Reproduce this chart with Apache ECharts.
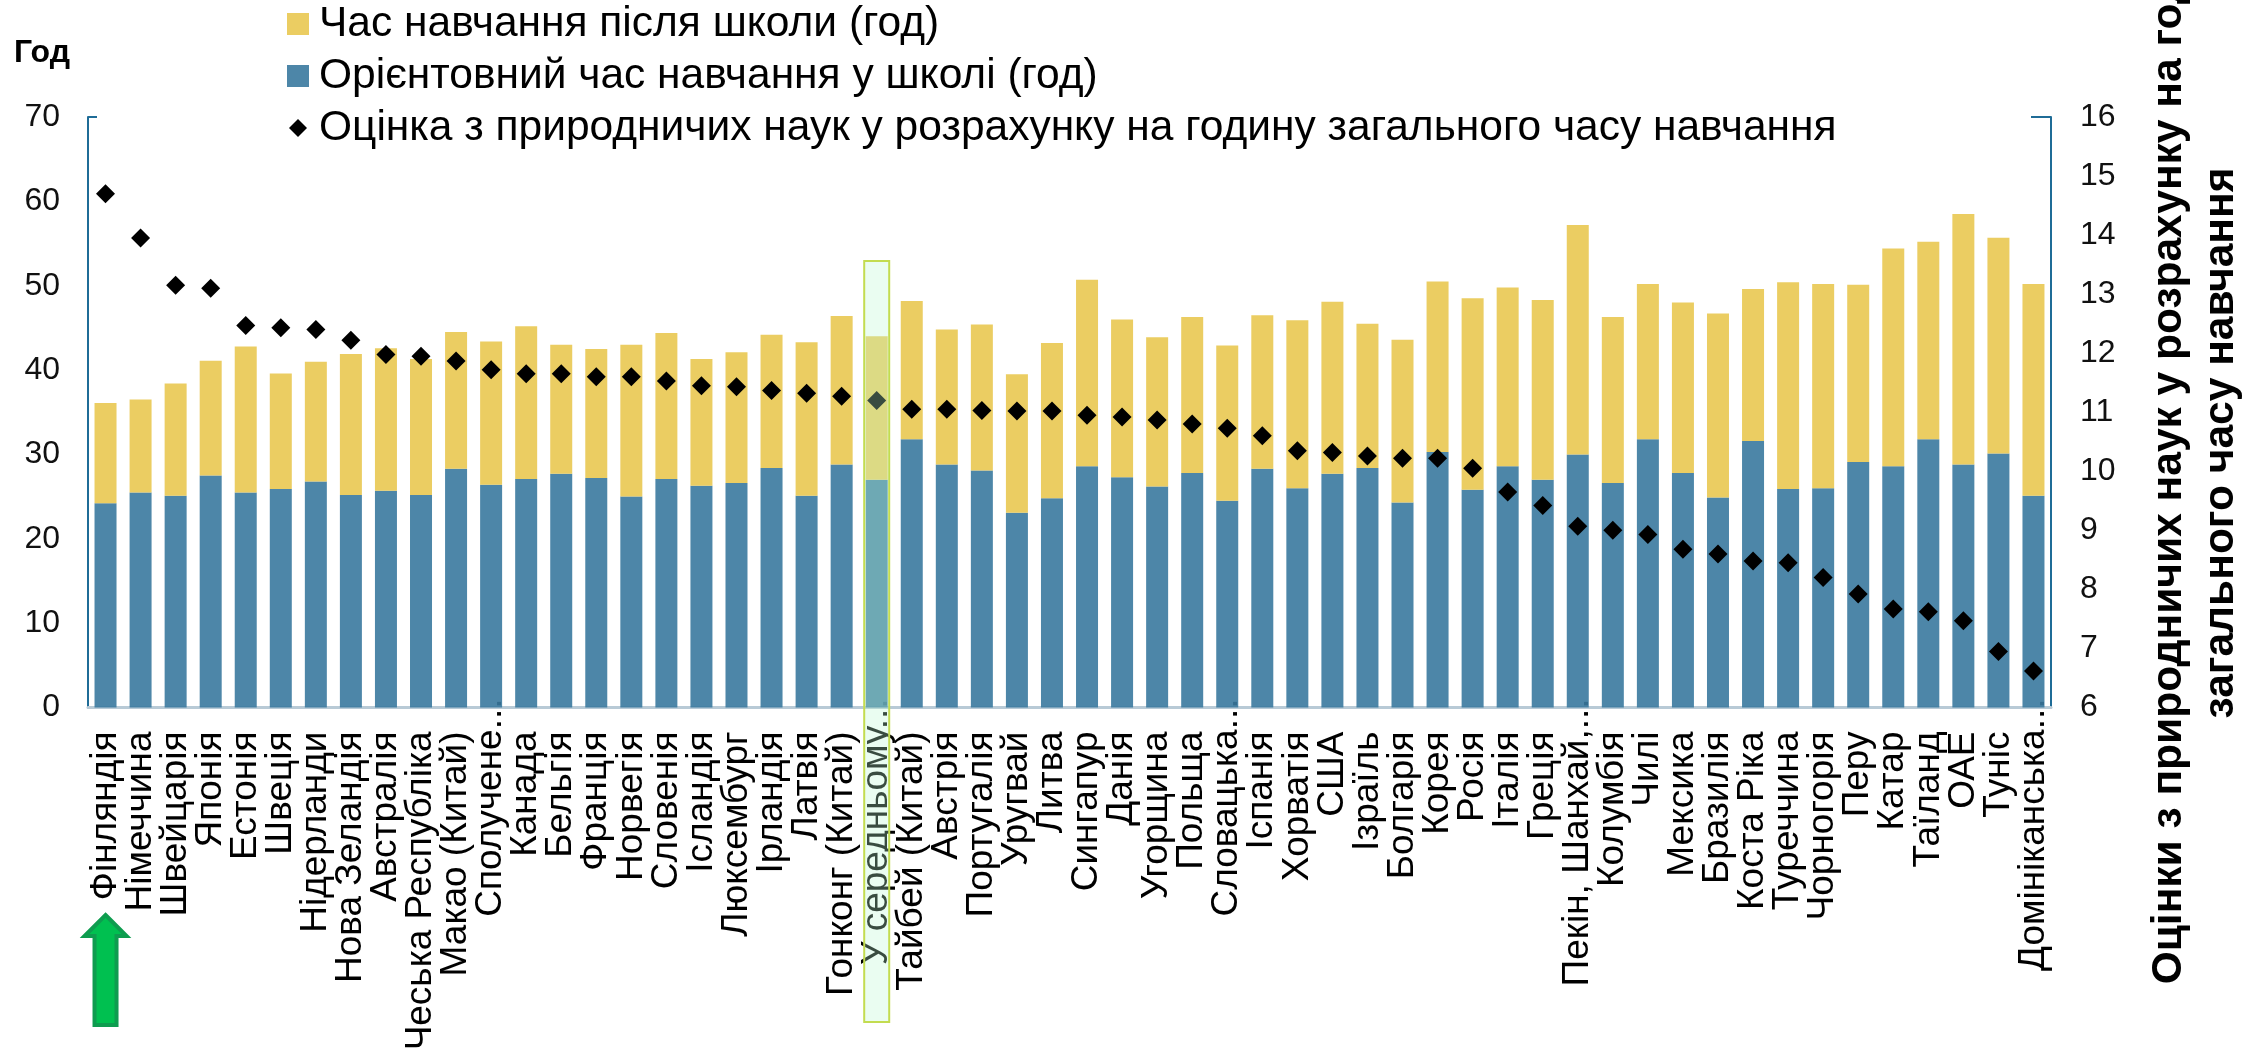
<!DOCTYPE html>
<html>
<head>
<meta charset="utf-8">
<style>html,body{margin:0;padding:0;background:#fff}#c{width:2249px;height:1058px}</style>
<script src="https://cdn.jsdelivr.net/npm/echarts@6/dist/echarts.min.js"></script>
</head>
<body>
<div id="c"></div>
<script>
const categories = ['Фінляндія','Німеччина','Швейцарія','Японія','Естонія','Швеція','Нідерланди','Нова Зеландія','Австралія','Чеська Республіка','Макао (Китай)','Сполучене...','Канада','Бельгія','Франція','Норвегія','Словенія','Ісландія','Люксембург','Ірландія','Латвія','Гонконг (Китай)','У середньому...','Тайбей (Китай)','Австрія','Португалія','Уругвай','Литва','Сингапур','Данія','Угорщина','Польща','Словацька...','Іспанія','Хорватія','США','Ізраїль','Болгарія','Корея','Росія','Італія','Греція','Пекін, Шанхай,...','Колумбія','Чилі','Мексика','Бразилія','Коста Ріка','Туреччина','Чорногорія','Перу','Катар','Таїланд','ОАЕ','Туніс','Домініканська...'];
const schoolHours = [24.2,25.5,25.1,27.5,25.5,25.9,26.8,25.2,25.7,25.2,28.3,26.4,27.1,27.7,27.2,25,27.1,26.3,26.6,28.4,25.1,28.8,27,31.8,28.8,28.1,23.1,24.8,28.6,27.3,26.2,27.8,24.5,28.3,26,27.7,28.4,24.3,30.3,25.8,28.6,27,30,26.6,31.8,27.8,24.9,31.6,25.9,26,29.1,28.6,31.8,28.8,30.1,25.1];
const afterSchoolHours = [11.9,11,13.3,13.6,17.3,13.7,14.2,16.7,16.9,16.1,16.2,17,18.1,15.3,15.3,18,17.3,15,15.5,15.8,18.2,17.6,17,16.4,16,17.3,16.4,18.4,22.1,18.7,17.7,18.5,18.4,18.2,19.9,20.4,17.1,19.3,20.2,22.7,21.2,21.3,27.2,19.7,18.4,20.2,21.8,18,24.5,24.2,21,25.8,23.4,29.7,25.6,25.1];
const sciencePerHour = [14.7,13.95,13.15,13.1,12.47,12.43,12.4,12.22,11.98,11.95,11.87,11.72,11.65,11.65,11.6,11.6,11.53,11.45,11.43,11.37,11.32,11.27,11.2,11.05,11.05,11.03,11.02,11.02,10.95,10.92,10.87,10.8,10.73,10.6,10.35,10.32,10.26,10.22,10.22,10.05,9.65,9.42,9.07,9,8.93,8.68,8.6,8.48,8.45,8.2,7.92,7.67,7.62,7.47,6.95,6.62];
const averageCategory = 'У середньому...';
const firstCategory = 'Фінляндія';
const nameAfter = 'Час навчання після школи (год)';
const nameSchool = 'Орієнтовний час навчання у школі (год)';
const nameScience = 'Оцінка з природничих наук у розрахунку на годину загального часу навчання';
const rightTitle = 'Оцінки з природничих наук у розрахунку на годину\nзагального часу навчання';
const leftTitle = 'Год';

const FONT = '"Liberation Sans", Arial, sans-serif';
const axisBlue = '#1F6C97';
const DOT_SHIFT = 33;

const chart = echarts.init(document.getElementById('c'), null, {renderer: 'canvas'});
const xData = categories.map(c => c.endsWith('...')
  ? {value: c, textStyle: {padding: [0, -DOT_SHIFT, 0, 0]}}
  : c);

chart.setOption({
  animation: false,
  backgroundColor: '#fff',
  textStyle: {fontFamily: FONT},
  grid: {left: 88, right: 198, top: 117, bottom: 350.5, containLabel: false},
  legend: {
    orient: 'vertical', left: 287, top: 0, padding: 0,
    itemWidth: 22, itemHeight: 22, itemGap: 4,
    selectedMode: false,
    textStyle: {fontSize: 42.5, color: '#000', fontFamily: FONT, padding: [0, 0, 0, 5], lineHeight: 48},
    data: [
      {name: nameAfter, icon: 'rect'},
      {name: nameSchool, icon: 'rect'},
      {name: nameScience, icon: 'path://M0 0M22 22M11 2L20 11L11 20L2 11Z'}
    ]
  },
  xAxis: {
    type: 'category', data: xData,
    axisLine: {show: true, lineStyle: {color: '#B8CAD6', width: 3}},
    axisTick: {show: false},
    splitLine: {show: false},
    axisLabel: {rotate: 90, interval: 0, margin: 24, fontSize: 37, color: '#000', fontFamily: FONT, hideOverlap: false}
  },
  yAxis: [{
    type: 'value', min: 0, max: 70, interval: 10, position: 'left',
    name: leftTitle, nameLocation: 'end', nameGap: 48,
    nameTextStyle: {fontSize: 32, fontWeight: 'bold', color: '#000', align: 'right', padding: [0, 18, 0, 0], fontFamily: FONT},
    axisLine: {show: true, onZero: false, lineStyle: {color: axisBlue, width: 2}},
    axisTick: {show: true, inside: true, length: 9, customValues: [70], lineStyle: {color: axisBlue, width: 2}},
    axisLabel: {margin: 28, fontSize: 32, color: '#111', fontFamily: FONT, padding: [4, 0, 0, 0]},
    splitLine: {show: true, showMinLine: false, showMaxLine: false, lineStyle: {color: '#D9D9D9', width: 2}}
  }, {
    type: 'value', min: 6, max: 16, interval: 1, position: 'right',
    axisLine: {show: true, onZero: false, lineStyle: {color: axisBlue, width: 2}},
    axisTick: {show: true, inside: true, length: 20, customValues: [16], lineStyle: {color: axisBlue, width: 2}},
    axisLabel: {margin: 29, fontSize: 32, color: '#111', fontFamily: FONT, padding: [4, 0, 0, 0]},
    splitLine: {show: false}
  }],
  series: [{
    name: nameSchool, type: 'bar', stack: 'h', data: schoolHours, barWidth: 22,
    itemStyle: {color: '#3A799E', opacity: 0.9}
  }, {
    name: nameAfter, type: 'bar', stack: 'h', data: afterSchoolHours, barWidth: 22,
    itemStyle: {color: '#E9C851', opacity: 0.9}
  }, {
    name: nameScience, type: 'scatter', yAxisIndex: 1, data: sciencePerHour,
    symbol: 'diamond', symbolSize: 19, itemStyle: {color: '#000', opacity: 1}, z: 5
  }]
});

function overlay() {
  const cx = chart.convertToPixel({xAxisIndex: 0}, averageCategory);
  const ax = chart.convertToPixel({xAxisIndex: 0}, firstCategory);
  chart.setOption({
    graphic: [
      {type: 'rect', z: 100, shape: {x: cx - 12.5, y: 261, width: 25, height: 761},
       style: {fill: 'rgba(187,250,210,0.305)', stroke: '#C3DC50', lineWidth: 2}},
      {type: 'polygon', z: 100, shape: {points: [
          [ax, 915],[ax + 21, 936],[ax + 11, 936],[ax + 11, 1025],[ax - 11, 1025],[ax - 11, 936],[ax - 21, 936]]},
       style: {fill: '#00C050', stroke: '#0E9C4F', lineWidth: 4}},
      {type: 'text', z: 50, x: 2195, y: 443, rotation: Math.PI / 2,
       style: {text: rightTitle, font: 'bold 42.5px ' + FONT, fill: '#000', align: 'center', verticalAlign: 'middle', lineHeight: 52}}
    ]
  });
}
overlay();
</script>
</body>
</html>
